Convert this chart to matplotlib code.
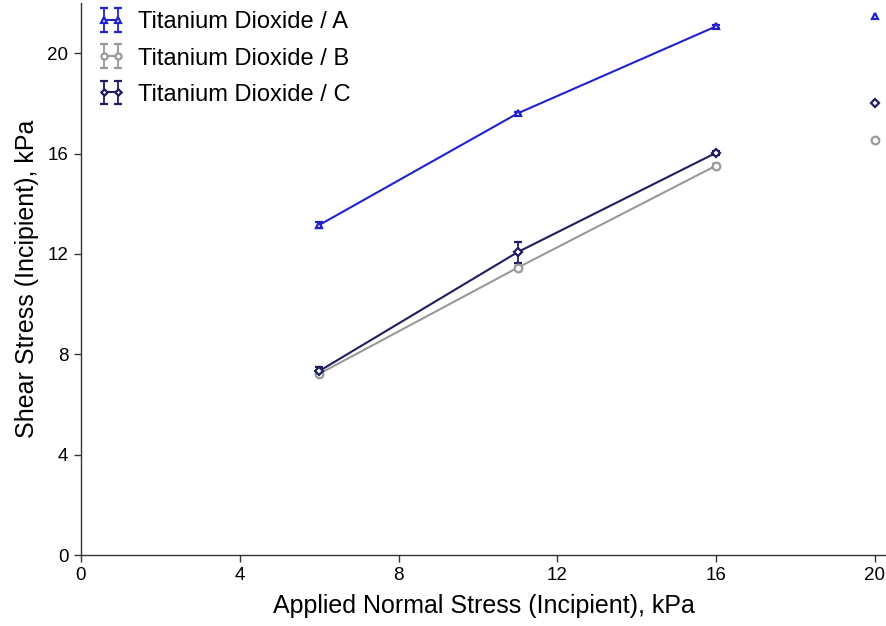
import matplotlib
matplotlib.use("Agg")
import matplotlib.pyplot as plt

plt.rcParams['font.family'] = ['Liberation Sans', 'DejaVu Sans']

x = [6, 11, 16, 20]
a_vals = [13.15, 17.6, 21.07, 21.5]
a_err = [0.12, 0.06, 0.05, 0.0]
b_vals = [7.22, 11.45, 15.52, 16.53]
b_err = [0.1, 0.06, 0.05, 0.0]
c_vals = [7.33, 12.07, 16.03, 18.0]
c_err = [0.15, 0.42, 0.08, 0.0]
labels = ["Titanium Dioxide / A", "Titanium Dioxide / B", "Titanium Dioxide / C"]
colors = ["#2222cc", "#999999", "#1e1e5e"]
markers = ["^", "o", "D"]
msizes = [5, 5.5, 4]

fig = plt.figure(figsize=(8.86, 6.26), dpi=100)
ax = fig.add_axes([81/886, 71/626, 805/886, 552/626])

for vals, errs, lab, col, mk, ms in zip([a_vals, b_vals, c_vals], [a_err, b_err, c_err],
                                         labels, colors, markers, msizes):
    ax.errorbar(x[:3], vals[:3], yerr=errs[:3], color=col, marker=mk, ms=ms,
                mfc='white', mec=col, mew=1.6, lw=1.5, capsize=3, elinewidth=1.3,
                capthick=1.3, label=lab, zorder=3)
    ax.plot(x[3:], vals[3:], linestyle='none', marker=mk, ms=ms, mfc='white',
            mec=col, mew=1.6, zorder=3)

ax.set_xlim(0, 20.28)
ax.set_ylim(0, 22)
ax.set_xticks([0, 4, 8, 12, 16, 20])
ax.set_yticks([0, 4, 8, 12, 16, 20])
ax.spines['top'].set_visible(False)
ax.spines['right'].set_visible(False)
for s in ['left', 'bottom']:
    ax.spines[s].set_color('#333333')
    ax.spines[s].set_linewidth(1.0)
ax.tick_params(direction='out', length=5, width=1, labelsize=13.5, colors='#333333',
               labelcolor='black', pad=4)
ax.set_xlabel("Applied Normal Stress (Incipient), kPa", fontsize=18, labelpad=7)
ax.set_ylabel("Shear Stress (Incipient), kPa", fontsize=18, labelpad=6)

leg = ax.legend(loc='upper left', frameon=False, fontsize=17, labelspacing=0.6,
                handlelength=1.2, handletextpad=0.55, borderaxespad=0.0,
                numpoints=2, markerscale=0.8,
                bbox_to_anchor=(0.008, 1.002))

fig.savefig("out.png", dpi=100)
